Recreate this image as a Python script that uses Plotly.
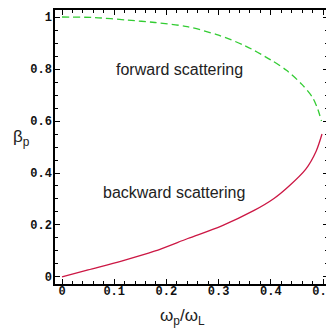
import plotly.graph_objects as go

# forward scattering (green dashed)
fwd_x = [0.0, 0.063, 0.126, 0.178, 0.24, 0.3, 0.35, 0.4, 0.43, 0.46, 0.48, 0.49, 0.497]
fwd_y = [1.0, 0.998, 0.988, 0.979, 0.963, 0.93, 0.89, 0.835, 0.795, 0.74, 0.69, 0.645, 0.60]
# backward scattering (red solid)
bwd_x = [0.0, 0.05, 0.114, 0.177, 0.241, 0.305, 0.368, 0.406, 0.435, 0.467, 0.487, 0.498]
bwd_y = [0.0, 0.027, 0.061, 0.099, 0.148, 0.196, 0.256, 0.302, 0.35, 0.415, 0.485, 0.55]

x_ticks = [0, 0.1, 0.2, 0.3, 0.4, 0.5]
x_labels = ["0", "0.1", "0.2", "0.3", "0.4", "0.5"]
y_ticks = [0, 0.2, 0.4, 0.6, 0.8, 1]
y_labels = ["0", "0.2", "0.4", "0.6", "0.8", "1"]

fig = go.Figure()
fig.add_trace(go.Scatter(x=fwd_x, y=fwd_y, mode="lines",
                         line=dict(color="#33cc33", width=1.3, dash="7px,4px", shape="spline", smoothing=0.8),
                         showlegend=False))
fig.add_trace(go.Scatter(x=bwd_x, y=bwd_y, mode="lines",
                         line=dict(color="#cc1744", width=1.3, shape="spline", smoothing=0.8),
                         showlegend=False))

tickfont = dict(family="Liberation Mono", size=12, color="#111", weight="bold")
fig.update_xaxes(range=[-0.0134, 0.5095], tickvals=x_ticks, ticktext=x_labels, ticks="inside", ticklen=5,
                 tickwidth=1, tickcolor="black", showline=True, linecolor="black", linewidth=1.5, mirror="ticks",
                 showgrid=False, zeroline=False, tickfont=tickfont, ticklabeloverflow="allow",
                 ticklabelstandoff=-5,
                 minor=dict(dtick=0.02, ticks="inside", ticklen=3, tickcolor="black", showgrid=False))
fig.update_yaxes(range=[-0.027, 1.027], tickvals=y_ticks, ticktext=y_labels, ticks="inside", ticklen=5,
                 tickwidth=1, tickcolor="black", showline=True, linecolor="black", linewidth=1.5, mirror="ticks",
                 showgrid=False, zeroline=False, tickfont=tickfont, ticklabeloverflow="allow",
                 ticklabelstandoff=-1,
                 minor=dict(dtick=0.05, ticks="inside", ticklen=3, tickcolor="black", showgrid=False))

lblfont = dict(family="Liberation Sans", size=16, color="#222")
fig.add_annotation(x=0.225, y=0.80, xref="x", yref="y", text="forward scattering", showarrow=False, font=lblfont)
fig.add_annotation(x=0.215, y=0.325, xref="x", yref="y", text="backward scattering", showarrow=False, font=lblfont)

# page body has an 8px default margin: plot area sits at window x 55..329, y 8..284
titlefont = dict(family="Liberation Sans", size=17, color="#222")
fig.add_annotation(xref="paper", yref="paper", x=(21 - 55) / 274, y=(284 - 137) / 276, text="β<sub>p</sub>",
                   showarrow=False, font=titlefont, xanchor="center", yanchor="middle")
fig.add_annotation(xref="paper", yref="paper", x=(183 - 55) / 274, y=(284 - 317) / 276, text="ω<sub>p</sub>/ω<sub>L</sub>",
                   showarrow=False, font=titlefont, xanchor="center", yanchor="middle")

fig.update_layout(width=326, height=323, margin=dict(l=47, r=5, t=0, b=47),
                  paper_bgcolor="white", plot_bgcolor="white")
fig.write_html("out.html")
